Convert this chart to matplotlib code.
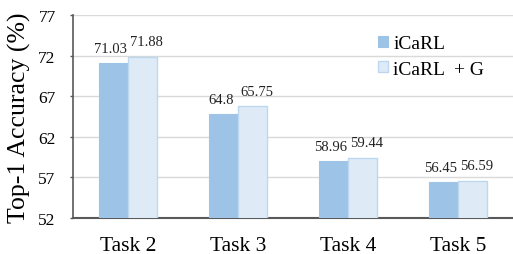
import matplotlib
matplotlib.use("Agg")
import matplotlib.pyplot as plt
import numpy as np

tasks = ["Task 2", "Task 3", "Task 4", "Task 5"]
icarl = [71.03, 64.8, 58.96, 56.45]
icarl_g = [71.88, 65.75, 59.44, 56.59]
icarl_lbl = ["71.03", "64.8", "58.96", "56.45"]
icarl_g_lbl = ["71.88", "65.75", "59.44", "56.59"]
yticks = [52, 57, 62, 67, 72, 77]

plt.rcParams['font.family'] = ['Liberation Serif', 'DejaVu Serif']

fig = plt.figure(figsize=(5.13, 2.55), dpi=100)
ax = fig.add_axes([73 / 513, 1 - 219 / 255, 440 / 513, 203 / 255])

x = np.arange(len(tasks))
w = 0.26
ax.bar(x - w / 2, icarl, w, color="#9DC3E6", edgecolor="#9DC3E6",
       linewidth=0.8, label="iCaRL", zorder=3)
ax.bar(x + w / 2, icarl_g, w, color="#DEEBF7", edgecolor="#BDD7EE",
       linewidth=1.0, label="iCaRL  + G", zorder=3)

# value labels, nudged apart a little like Excel does
for xi, v, s in zip(x, icarl, icarl_lbl):
    ax.annotate(s, (xi - w / 2, v), xytext=(-2, 6), textcoords="offset points",
                ha="center", va="bottom", fontsize=10.5, color="#222222")
for xi, v, s in zip(x, icarl_g, icarl_g_lbl):
    ax.annotate(s, (xi + w / 2, v), xytext=(3, 6), textcoords="offset points",
                ha="center", va="bottom", fontsize=10.5, color="#222222")

ax.set_ylim(52, 77)
ax.set_xlim(-0.5, 3.5)
ax.set_yticks(yticks)
ax.set_xticks(x)
ax.set_xticklabels(tasks, fontsize=15.5)
ax.tick_params(axis="y", labelsize=12.5, length=2.5, width=1, color="#595959", pad=10)
ax.tick_params(axis="x", length=0, pad=13)
ax.yaxis.grid(True, color="#D9D9D9", linewidth=1, zorder=0)
ax.set_axisbelow(True)
for s in ["top", "right"]:
    ax.spines[s].set_visible(False)
ax.spines["left"].set_color("#595959")
ax.spines["bottom"].set_color("#595959")
ax.spines["bottom"].set_linewidth(1.5)
ax.spines["left"].set_linewidth(1.2)
ax.set_ylabel("Top-1 Accuracy (%)", fontsize=18.5, labelpad=5)

ax.legend(loc="upper left", bbox_to_anchor=(0.675, 0.94), frameon=False, fontsize=14,
          handlelength=0.5, handleheight=0.5, handletextpad=0.3, labelspacing=0.45,
          borderaxespad=0)

fig.savefig("out.png", dpi=100)
